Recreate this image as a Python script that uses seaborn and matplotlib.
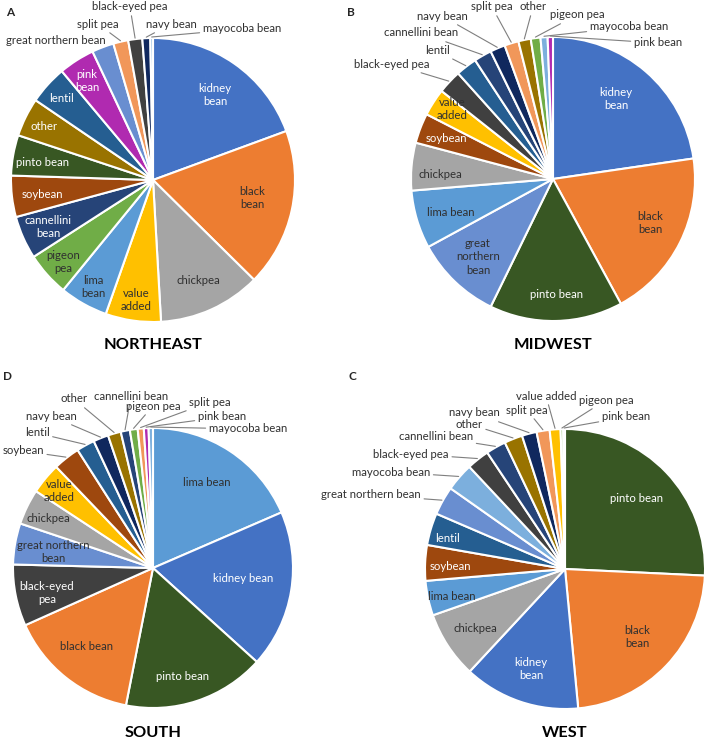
import numpy as np
import matplotlib
matplotlib.use("Agg")
import matplotlib.pyplot as plt
import seaborn as sns

# share (%) of each bean type per region (clockwise from 12 o'clock)
northeast_names = ["kidney bean", "black bean", "chickpea", "value added", "lima bean",
                   "pigeon pea", "cannellini bean", "soybean", "pinto bean", "other",
                   "lentil", "pink bean", "great northern bean", "split pea",
                   "black-eyed pea", "navy bean", "mayocoba bean"]
northeast_values = [19.4, 18.0, 11.7, 6.3, 5.5, 5.0, 4.9, 4.7, 4.6, 4.4, 4.4, 4.1, 2.5, 1.7, 1.6, 0.9, 0.3]

midwest_names = ["kidney bean", "black bean", "pinto bean", "great northern bean", "lima bean",
                 "chickpea", "soybean", "value added", "black-eyed pea", "lentil",
                 "cannellini bean", "navy bean", "split pea", "other", "pigeon pea",
                 "mayocoba bean", "pink bean"]
midwest_values = [22.6, 19.3, 15.1, 9.8, 6.6, 5.4, 3.4, 3.1, 2.7, 2.4, 2.0, 1.7, 1.6, 1.4, 1.1, 0.8, 0.6]

south_names = ["lima bean", "kidney bean", "pinto bean", "black bean", "black-eyed pea",
               "great northern bean", "chickpea", "value added", "soybean", "lentil",
               "navy bean", "other", "cannellini bean", "pigeon pea", "split pea",
               "pink bean", "mayocoba bean"]
south_values = [18.5, 18.2, 16.4, 15.2, 7.1, 4.75, 4.1, 3.6, 3.1, 2.1, 1.75, 1.5, 1.05, 0.9, 0.7, 0.55, 0.5]

west_names = ["pinto bean", "black bean", "kidney bean", "chickpea", "lima bean", "soybean",
              "lentil", "great northern bean", "mayocoba bean", "black-eyed pea",
              "cannellini bean", "other", "navy bean", "split pea", "value added",
              "pigeon pea", "pink bean"]
west_values = [25.7, 22.7, 13.4, 7.7, 4.0, 4.1, 3.7, 3.3, 3.25, 2.6, 2.3, 2.1, 1.7, 1.5, 1.25, 0.3, 0.2]

bean_colors = {
    "kidney bean": "#4472C4", "black bean": "#ED7D31", "chickpea": "#A5A5A5",
    "value added": "#FFC000", "lima bean": "#5B9BD5", "pigeon pea": "#70AD47",
    "cannellini bean": "#264478", "soybean": "#9E480E", "pinto bean": "#385723",
    "other": "#997300", "lentil": "#255E91", "pink bean": "#B02AB0",
    "great northern bean": "#698ED0", "split pea": "#F1975A", "black-eyed pea": "#404040",
    "navy bean": "#10285E", "mayocoba bean": "#7CAFDD",
}
light_text = {"kidney bean", "cannellini bean", "soybean", "pinto bean", "other",
              "lentil", "pink bean", "black-eyed pea"}

# label layout in figure pixels (x right, y down)
inside_ne = {"kidney bean": (215, 95, "kidney\nbean"), "black bean": (252, 198, "black\nbean"),
             "chickpea": (198, 280, "chickpea"), "value added": (136, 300, "value\nadded"),
             "lima bean": (93, 287, "lima\nbean"), "pigeon pea": (63, 262, "pigeon\npea"),
             "cannellini bean": (48, 227, "cannellini\nbean"), "soybean": (42, 195, "soybean"),
             "pinto bean": (43, 162, "pinto bean"), "other": (44, 127, "other"),
             "lentil": (61, 99, "lentil"), "pink bean": (87, 81, "pink\nbean")}
outside_ne = {"great northern bean": (56, 41, False), "split pea": (98, 24, True),
              "black-eyed pea": (130, 7, True), "navy bean": (171, 24, True),
              "mayocoba bean": (242, 29, True)}

inside_mw = {"kidney bean": (616, 99, "kidney\nbean"), "black bean": (650, 223, "black\nbean"),
             "pinto bean": (557, 295, "pinto bean"),
             "great northern bean": (478, 257, "great\nnorthern\nbean"),
             "lima bean": (451, 212, "lima bean"), "chickpea": (440, 174, "chickpea"),
             "soybean": (446, 138, "soybean"), "value added": (452, 109, "value\nadded")}
outside_mw = {"black-eyed pea": (392, 64, True), "lentil": (437, 51, True),
              "cannellini bean": (421, 33, True), "navy bean": (442, 16, True),
              "split pea": (492, 7, True), "other": (533, 7, True),
              "pigeon pea": (577, 15, True), "mayocoba bean": (629, 27, True),
              "pink bean": (658, 43, True)}

inside_s = {"lima bean": (207, 482, "lima bean"), "kidney bean": (243, 578, "kidney bean"),
            "pinto bean": (183, 677, "pinto bean"), "black bean": (86, 646, "black bean"),
            "black-eyed pea": (47, 593, "black-eyed\npea"),
            "great northern bean": (53, 552, "great northern\nbean"),
            "chickpea": (48, 519, "chickpea"), "value added": (59, 491, "value\nadded")}
outside_s = {"soybean": (23, 451, True), "lentil": (37, 433, True), "navy bean": (51, 416, True),
             "other": (74, 399, True), "cannellini bean": (131, 396, True),
             "pigeon pea": (153, 406, True), "split pea": (210, 402, True),
             "pink bean": (222, 417, True), "mayocoba bean": (248, 429, True)}

inside_w = {"pinto bean": (637, 498, "pinto bean"), "black bean": (637, 637, "black\nbean"),
            "kidney bean": (531, 669, "kidney\nbean"), "chickpea": (475, 629, "chickpea"),
            "lima bean": (452, 597, "lima bean"), "soybean": (450, 566, "soybean"),
            "lentil": (448, 538, "lentil")}
outside_w = {"great northern bean": (371, 495, True), "mayocoba bean": (391, 472, True),
             "black-eyed pea": (411, 454, True), "cannellini bean": (436, 437, True),
             "other": (469, 424, True), "navy bean": (474, 413, True),
             "split pea": (527, 410, True), "value added": (546, 396, True),
             "pigeon pea": (606, 400, True), "pink bean": (626, 417, True)}

W, H = 708, 742
sns.set_theme(style="white")
plt.rcParams["font.family"] = ["Lato", "DejaVu Sans"]

fig = plt.figure(figsize=(W / 100, H / 100), dpi=100)
LABEL_FS = 8.2
DARK = "#303030"


def draw_pie(names, values, center, radius, inside, outside, title, title_y):
    cx, cy = center
    ax = fig.add_axes([0, 0, 1, 1])
    colors = sns.color_palette([bean_colors[n] for n in names])
    wedges, _ = ax.pie(values, colors=colors, startangle=90, counterclock=False,
                       radius=radius, wedgeprops=dict(edgecolor="white", linewidth=1.5))
    ax.set_xlim(-cx, W - cx)
    ax.set_ylim(-(H - cy), cy)
    ax.set_facecolor("none")
    ax.axis("off")

    for name, (px, py, txt) in inside.items():
        ax.text(px - cx, cy - py, txt, ha="center", va="center", fontsize=LABEL_FS,
                linespacing=1.25, color="white" if name in light_text else DARK)

    for name, (px, py, leader) in outside.items():
        w = wedges[names.index(name)]
        ang = np.deg2rad((w.theta1 + w.theta2) / 2)
        tip = ((radius + 1) * np.cos(ang), (radius + 1) * np.sin(ang))
        arrow = dict(arrowstyle="-", color="#7F7F7F", lw=0.8, shrinkA=0, shrinkB=0) if leader else None
        ax.annotate(name, xy=tip, xytext=(px - cx, cy - py), ha="center", va="center",
                    fontsize=LABEL_FS, color=DARK, arrowprops=arrow)

    ax.text(0, cy - title_y, title, ha="center", va="center", fontsize=11.8,
            fontweight="bold", color="black")


draw_pie(northeast_names, northeast_values, (153, 180), 142, inside_ne, outside_ne, "NORTHEAST", 345)
draw_pie(midwest_names, midwest_values, (553, 179), 142, inside_mw, outside_mw, "MIDWEST", 345)
draw_pie(south_names, south_values, (153, 568), 140, inside_s, outside_s, "SOUTH", 733)
draw_pie(west_names, west_values, (565, 569), 140, inside_w, outside_w, "WEST", 733)

for letter, (lx, ly) in {"A": (10, 12), "B": (351, 12), "D": (8, 377), "C": (352, 377)}.items():
    fig.text(lx / W, 1 - ly / H, letter, ha="center", va="center", fontsize=8.5, fontweight="bold")

fig.savefig("out.png", dpi=100)
